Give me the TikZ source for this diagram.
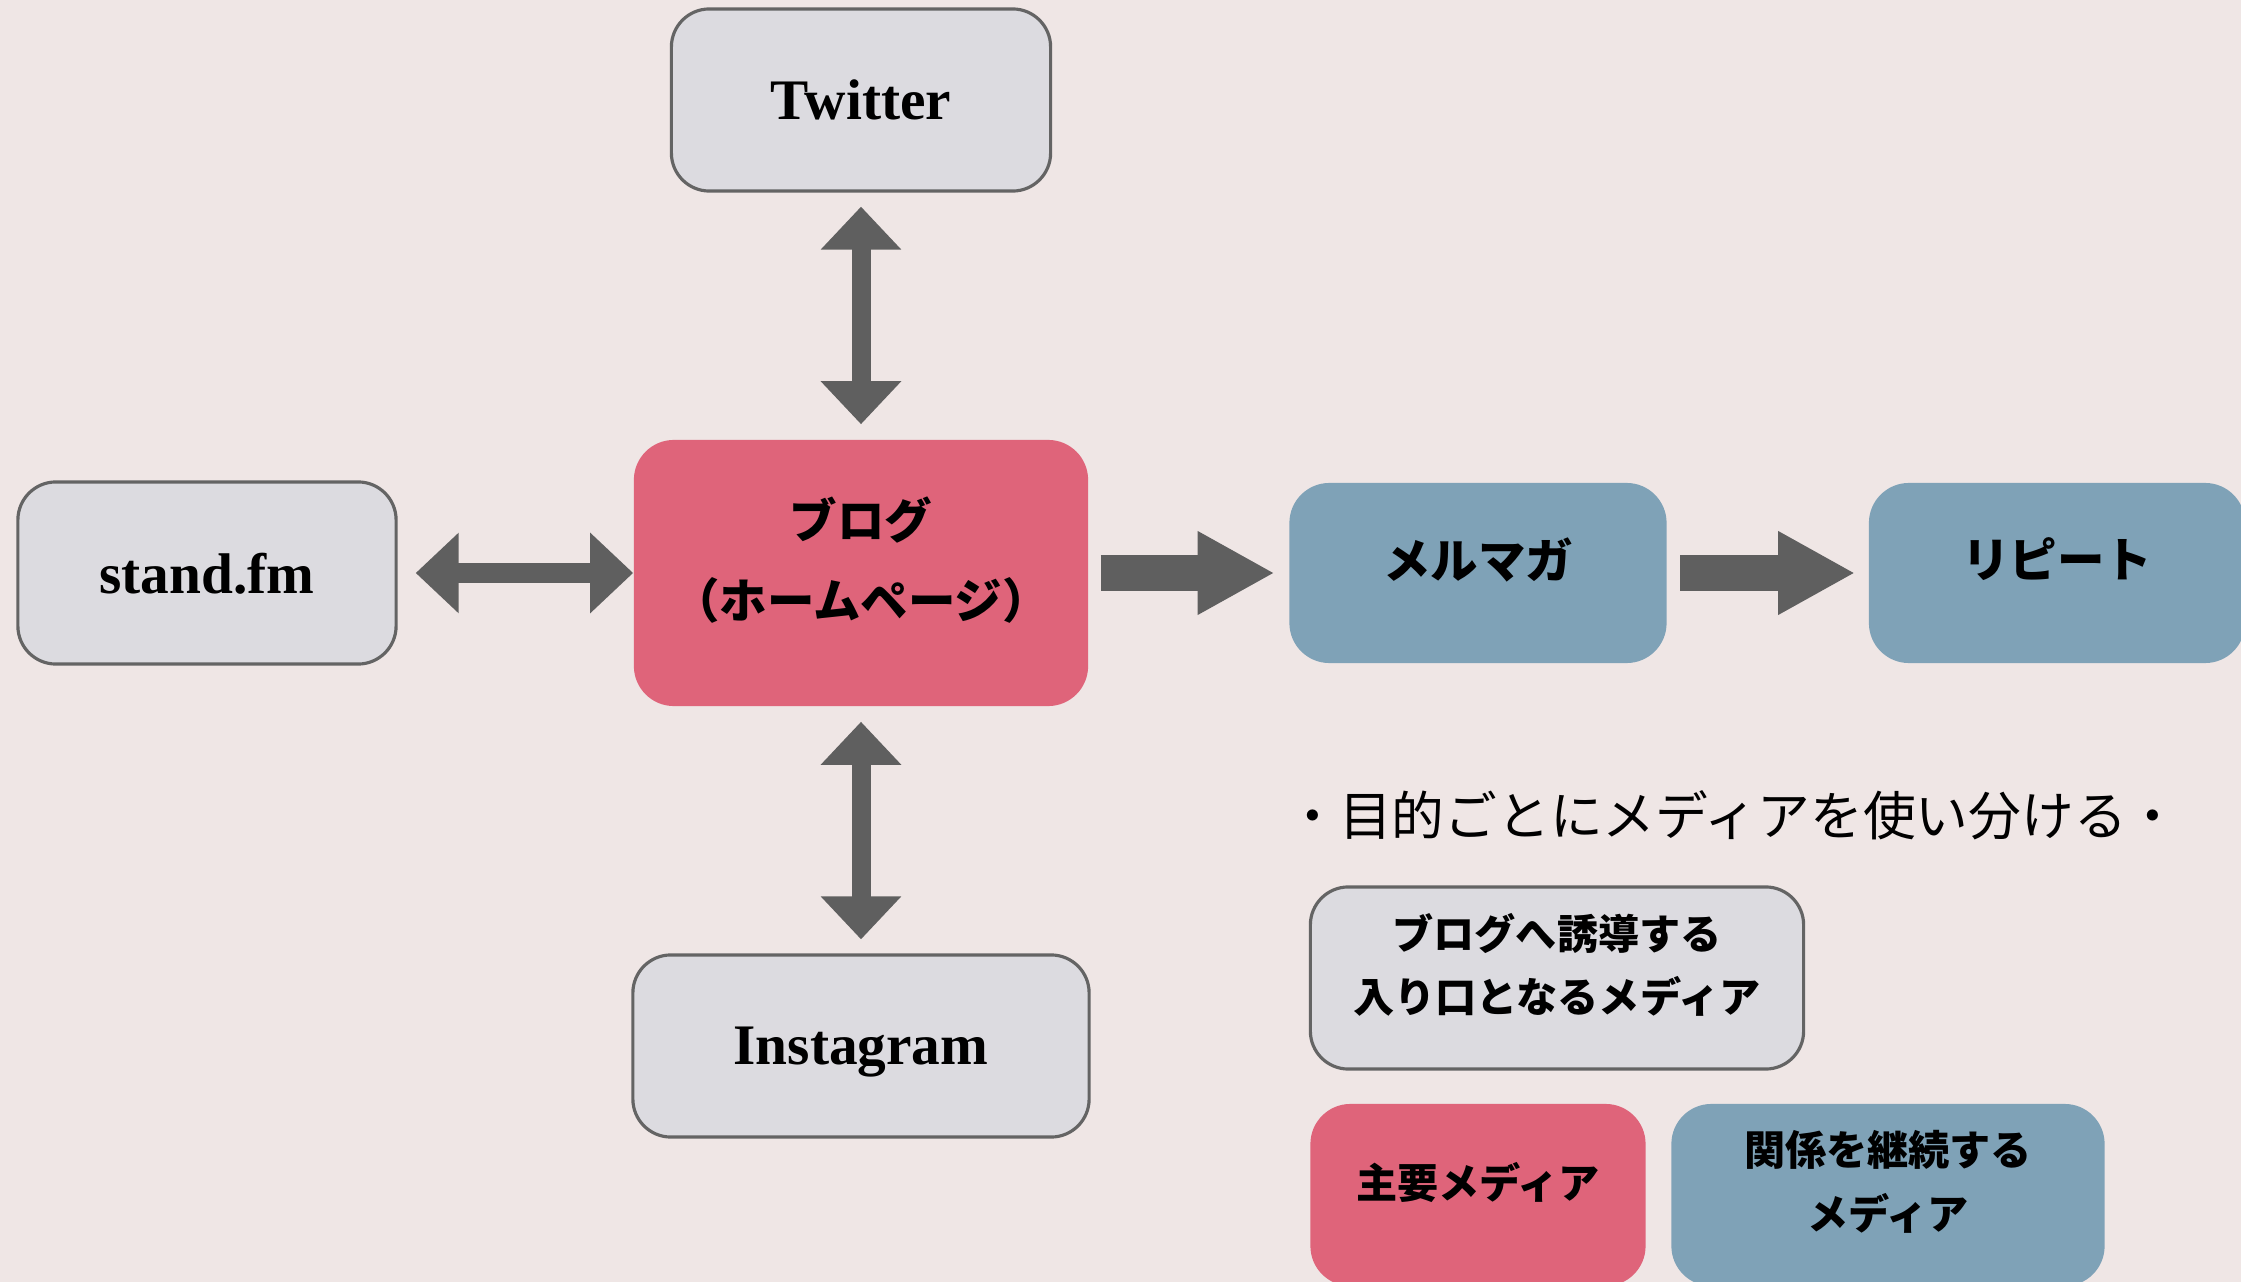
\documentclass[tikz,border=0pt]{standalone}
\usepackage{fontspec}
\setmainfont{Liberation Serif}
\newfontfamily\jpfont{Noto Sans CJK JP}
\usepackage{xcolor}
\usepackage{tikz}
\usetikzlibrary{arrows.meta}
\definecolor{PageBg}{HTML}{EFE6E5}
\definecolor{BoxGray}{HTML}{DCDBE0}
\definecolor{EdgeGray}{HTML}{646464}
\definecolor{BlogRed}{HTML}{DF647A}
\definecolor{KeepBlue}{HTML}{7FA2B7}
\definecolor{ArrowGray}{HTML}{5F5F5F}
\tikzset{
    Media/.style = {draw=EdgeGray,line width=0.9pt,fill=BoxGray,rounded corners=0.38cm,
         minimum height=1.82cm,inner sep=0pt,align=center,text depth=0pt,
         font=\bfseries\fontsize{16.3}{19}\selectfont},
    Main/.style = {fill=BlogRed,rounded corners=0.4cm,inner sep=0pt,align=center,text depth=0.3cm,
         font=\jpfont\bfseries\fontsize{13.5}{22.8}\selectfont},
    Keep/.style = {fill=KeepBlue,rounded corners=0.4cm,minimum height=1.8cm,inner sep=0pt,
         align=center,text depth=0.3cm,font=\jpfont\bfseries\fontsize{13.5}{22.8}\selectfont},
    Legend/.style = {text depth=0.3cm,font=\jpfont\bfseries\fontsize{11.7}{18}\selectfont},
    Both arrow/.style = {ArrowGray,line width=0.19cm,
         {Triangle[length=0.43cm,width=0.78cm]}-{Triangle[length=0.43cm,width=0.78cm]}},
    One arrow/.style = {ArrowGray,line width=0.36cm,-{Triangle[length=0.77cm,width=0.78cm]}}
}

\begin{document}
\begin{tikzpicture}[x=0.01cm,y=-0.01cm]
        \fill[PageBg] (0,0) rectangle (2241,1282);
        \useasboundingbox (0,0) rectangle (2241,1282);
        % media
        \node[Media,minimum width=3.79cm] (twitter) at (861,100) {Twitter};
        \node[Media,minimum width=3.78cm] (standfm) at (207,573) {stand.fm};
        \node[Media,minimum width=4.56cm] (instagram) at (861,1046) {Instagram};
        \node[Main,minimum width=4.54cm,minimum height=2.66cm] (blog) at (861,573)
            {ブログ\\（ホームページ）};
        \node[Keep,minimum width=3.77cm] (mail) at (1478,573) {メルマガ};
        \node[Keep,minimum width=3.76cm] (repeat) at (2057,573) {リピート};
        \foreach \X in {twitter,instagram}
            {\draw[Both arrow,shorten <=0.14cm,shorten >=0.15cm] (\X) -- (blog);}
        \draw[Both arrow,shorten <=0.18cm] (standfm) -- (blog);
        \draw[One arrow,shorten <=0.12cm,shorten >=0.14cm] (blog) -- (mail);
        \draw[One arrow,shorten <=0.13cm,shorten >=0.13cm] (mail) -- (repeat);
        % legend
        \node[font=\jpfont\fontsize{15}{18}\selectfont] (aim) at (1733,815)
            {・目的ごとにメディアを使い分ける・};
        \node[Media,Legend,minimum width=4.93cm] (entry) at (1557,978)
            {ブログへ誘導する\\入り口となるメディア};
        \node[Main,Legend,minimum width=3.35cm,minimum height=1.82cm] (mainkey) at (1478,1195)
            {主要メディア};
        \node[Keep,Legend,minimum width=4.33cm,minimum height=1.82cm] (keepkey) at (1888,1195)
            {関係を継続する\\メディア};
\end{tikzpicture}
\end{document}
